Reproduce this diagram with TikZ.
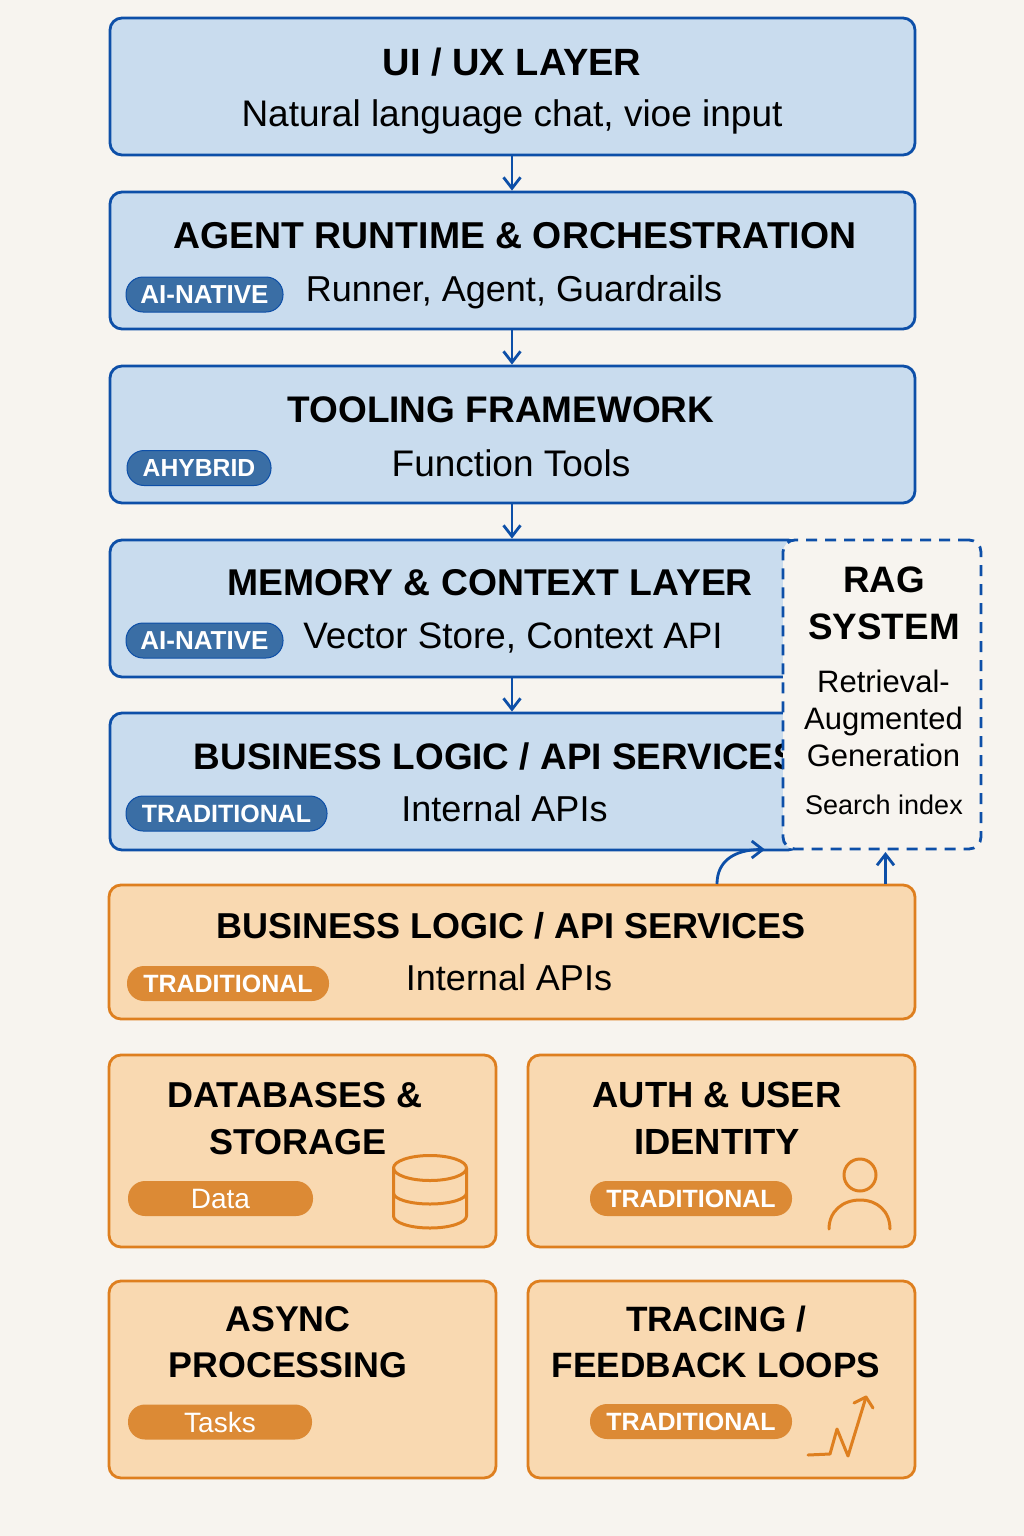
\documentclass[tikz,border=0pt]{standalone}
\usepackage{fontspec}
\setmainfont{Liberation Sans}
\usetikzlibrary{arrows.meta,positioning}
\definecolor{pagebg}{HTML}{F7F4EF}
\definecolor{bluefill}{HTML}{C9DCEE}
\definecolor{bluestroke}{HTML}{0D4FA8}
\definecolor{bluepill}{HTML}{3A6EA5}
\definecolor{orangefill}{HTML}{F9D9B1}
\definecolor{orangestroke}{HTML}{DE7F1F}
\definecolor{orangepill}{HTML}{DC8A35}
\tikzset{
  x=1pt,y=-1pt,
  box/.style={rectangle,rounded corners=12pt,line width=2.8pt,inner sep=0pt},
  bluebox/.style={box,draw=bluestroke,fill=bluefill},
  orangebox/.style={box,draw=orangestroke,fill=orangefill},
  ttl/.style={font=\fontsize{#1}{46.5}\selectfont\bfseries,text=black,align=center,inner sep=0pt},
  sub/.style={font=\fontsize{#1}{42}\selectfont,text=black,align=center,inner sep=0pt},
  pill/.style={rectangle,rounded corners=17pt,text=white,inner sep=0pt,
    font=\fontsize{#1}{30}\selectfont\bfseries,minimum height=35pt,line width=1pt},
  bluepillst/.style={pill=#1,fill=bluepill,draw=bluestroke},
  orangepillst/.style={pill=#1,fill=orangepill},
  flow/.style={draw=bluestroke,line width=2.8pt,-{Straight Barb[length=11pt,width=17pt,line width=2.8pt]}},
  icon/.style={draw=orangestroke,line width=3pt,line cap=round,line join=round},
}
\begin{document}
\begin{tikzpicture}
\useasboundingbox (0,0) rectangle (1024,1536);
\fill[pagebg] (0,0) rectangle (1024,1536);

% blue layers
\node[bluebox,minimum width=805pt,minimum height=137pt] (ui) at (512.5,86.5) {};
\node[bluebox,minimum width=805pt,minimum height=137pt] (agent) at (512.5,260.5) {};
\node[bluebox,minimum width=805pt,minimum height=137pt] (tool) at (512.5,434.5) {};
\node[bluebox,minimum width=690pt,minimum height=137pt] (mem) at (455,608.5) {};
\node[bluebox,minimum width=690pt,minimum height=137pt] (biz) at (455,781.5) {};

\node[ttl=38] (uiT) at (512,62) {UI / UX LAYER};
\node[sub=37] (uiS) at (512,117) {Natural language chat, vioe input};
\node[ttl=37.4] (agentT) at (515,236) {AGENT RUNTIME \& ORCHESTRATION};
\node[sub=36] (agentS) at (514,292) {Runner, Agent, Guardrails};
\node[bluepillst=26,minimum width=157pt] (agentP) at (204.5,294.5) {\raisebox{-1pt}{AI-NATIVE}};
\node[ttl=37] (toolT) at (501,410) {TOOLING FRAMEWORK};
\node[sub=37] (toolS) at (511,463) {Function Tools};
\node[bluepillst=24.7,minimum width=144pt] (toolP) at (199,468) {\raisebox{-1pt}{AHYBRID}};
\node[ttl=37.3] (memT) at (490,583) {MEMORY \& CONTEXT LAYER};
\node[sub=36.8] (memS) at (513,638) {Vector Store, Context API};
\node[bluepillst=26,minimum width=157pt] (memP) at (204.5,640.5) {\raisebox{-1pt}{AI-NATIVE}};
\node[ttl=36.9] (bizT) at (496,756) {BUSINESS LOGIC / API SERVICES};
\node[sub=36] (bizS) at (504.5,809) {Internal APIs};
\node[bluepillst=25,minimum width=201pt] (bizP) at (226.5,813.5) {\raisebox{-1pt}{TRADITIONAL}};

% RAG overlay
\node[rectangle,rounded corners=12pt,draw=bluestroke,fill=pagebg,line width=2.8pt,
  dash pattern=on 11pt off 8pt,minimum width=198pt,minimum height=309pt] (rag) at (882,694.5) {};
\node[ttl=36.8] (ragT) at (884,603.5) {RAG\\SYSTEM};
\node[font=\fontsize{31}{37}\selectfont,align=center,inner sep=0pt] (ragS) at (883.5,718) {Retrieval-\\Augmented\\Generation};
\node[font=\fontsize{27}{32}\selectfont,inner sep=0pt] (ragI) at (884,805) {Search index};

% orange layers
\node[orangebox,minimum width=806pt,minimum height=134pt] (biz2) at (512,952) {};
\node[ttl=36] (biz2T) at (511,926) {BUSINESS LOGIC / API SERVICES};
\node[sub=36] (biz2S) at (509,978) {Internal APIs};
\node[orangepillst=25,minimum width=202pt] (biz2P) at (228,983.5) {\raisebox{-1pt}{TRADITIONAL}};

\node[orangebox,minimum width=387pt,minimum height=192pt] (db) at (302.5,1151) {};
\node[ttl=36] (dbT) at (295,1118.5) {DATABASES \&\\\hspace*{6pt}STORAGE};
\node[orangepillst=28,minimum width=185pt] (dbP) at (220.5,1198.5) {\raisebox{-1pt}{\mdseries Data}};

\node[orangebox,minimum width=387pt,minimum height=192pt] (auth) at (721.5,1151) {};
\node[ttl=36.4] (authT) at (717,1118.5) {AUTH \& USER\\IDENTITY};
\node[orangepillst=25,minimum width=202pt] (authP) at (691,1198.5) {TRADITIONAL};

\node[orangebox,minimum width=387pt,minimum height=197pt] (async) at (302.5,1379.5) {};
\node[ttl=35.8] (asyncT) at (288,1342) {ASYNC\\PROCESSING};
\node[orangepillst=28,minimum width=184pt] (asyncP) at (220,1422) {\raisebox{-1pt}{\mdseries Tasks}};

\node[orangebox,minimum width=387pt,minimum height=197pt] (trace) at (721.5,1379.5) {};
\node[ttl=35.2] (traceT) at (716,1342) {TRACING /\\FEEDBACK LOOPS};
\node[orangepillst=25,minimum width=202pt] (traceP) at (691,1421.5) {TRADITIONAL};

% database icon
\draw[icon] (393.5,1168) arc[start angle=180,end angle=540,x radius=36.5pt,y radius=12.5pt];
\draw[icon] (393.5,1168) -- (393.5,1216) arc[start angle=180,end angle=360,x radius=36.5pt,y radius=12pt] -- (466.5,1168);
\draw[icon] (393.5,1193) arc[start angle=180,end angle=360,x radius=36.5pt,y radius=11pt];
% person icon
\draw[icon] (860,1175) circle[radius=16pt];
\draw[icon] (829,1229) .. controls (829,1211) and (843,1200) .. (860,1200) .. controls (877,1200) and (890,1211) .. (890,1229);
% chart icon
\draw[icon] (808,1455) -- (830,1454) -- (837,1429) -- (848,1456) -- (866,1397);
\draw[icon] (854,1403) -- (866,1397) -- (873,1408);

% connectors
\coordinate (bizOut) at (717,884);
\coordinate (bizIn) at (765,849.5);
\coordinate (ragOut) at (885.5,884);
\coordinate (ragIn) at (885.5,852);
\draw[flow] (ui.south -| 512,0) -- (agent.north -| 512,0);
\draw[flow] (agent.south -| 512,0) -- (tool.north -| 512,0);
\draw[flow] (tool.south -| 512,0) -- (mem.north -| 512,0);
\draw[flow] (mem.south -| 512,0) -- (biz.north -| 512,0);
\draw[flow] (bizOut) .. controls (717,862) and (733,849.5) .. (bizIn);
\draw[flow] (ragOut) -- (ragIn);
\end{tikzpicture}
\end{document}
